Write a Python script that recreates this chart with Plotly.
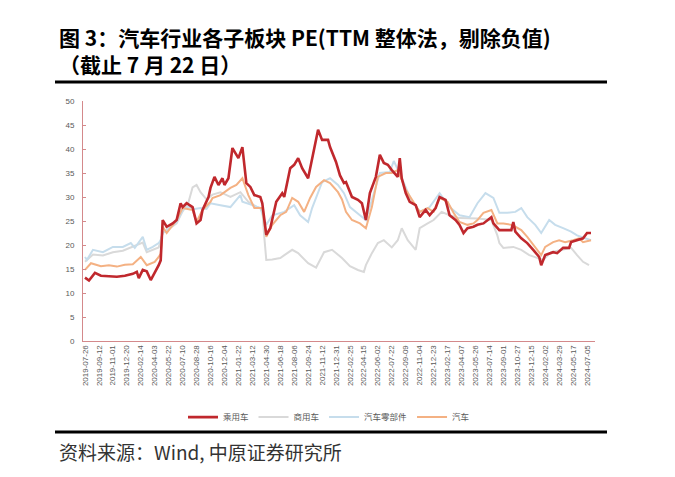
import plotly.graph_objects as go

# Week index (trading weeks since 2019-07-26) and PE values
tick_labels = ["2019-07-26","2019-09-12","2019-11-01","2019-12-20","2020-02-14","2020-04-03",
               "2020-05-22","2020-07-10","2020-08-28","2020-10-16","2020-12-04","2021-01-22",
               "2021-03-12","2021-04-30","2021-06-18","2021-08-06","2021-09-24","2021-11-12",
               "2021-12-31","2022-02-25","2022-04-15","2022-06-02","2022-07-22","2022-09-09",
               "2022-11-04","2022-12-23","2023-02-17","2023-04-07","2023-05-26","2023-07-14",
               "2023-09-01","2023-10-27","2023-12-15","2024-02-02","2024-03-29","2024-05-17",
               "2024-07-05"]
tick_weeks = [i * 7 for i in range(len(tick_labels))]

passenger_wk = [0,2,5,8,12,16,20,24,26,27,29,31,33,35,37,38,39,41,44,46,48,49,51,54,56,58,59,62,63,65,67,69,70,72,74,77,79,81,83,85,88,89,91,93,96,99,100,103,105,107,109,112,114,117,119,122,123,126,128,130,131,134,137,139,141,143,146,148,150,152,154,157,158,159,161,163,166,168,171,173,176,178,181,183,186,188,190,192,195,197,200,204,205,208,210,214,215,216,219,222,225,228,229,231,235,237,240,243,244,247,250,252,254]
passenger_pe = [13.2,12.6,14.2,13.6,13.5,13.4,13.6,14.0,14.4,13.1,14.8,14.5,12.7,14.2,15.8,16.8,25.2,23.8,24.5,25.2,28.7,27.9,28.7,27.9,24.5,25.2,27.3,30.0,31.9,34.2,32.5,33.9,32.5,33.9,40.2,38.1,40.4,32.9,32.1,30.4,30.0,28.7,22.1,23.5,29.0,30.8,30.0,36.0,36.7,38.1,36.0,33.9,38.1,44.0,41.9,41.9,40.4,37.3,34.5,32.9,33.1,30.0,29.4,28.7,25.2,30.8,34.2,38.8,37.1,36.7,35.6,34.2,38.1,33.9,30.8,29.0,28.3,25.8,27.3,26.2,27.7,30.0,29.4,26.2,25.2,24.2,22.5,23.5,23.8,24.2,24.5,25.8,24.5,23.1,23.1,23.1,24.8,22.8,21.4,20.4,19.0,17.5,15.8,17.9,18.5,18.3,19.4,19.4,20.6,21.0,21.4,22.5,22.5]

commercial_wk = [0,4,9,14,19,23,29,31,37,39,41,46,49,52,54,56,58,61,64,68,73,78,82,86,89,90,91,94,98,104,107,112,116,120,124,129,133,137,140,141,144,147,150,154,157,159,162,166,168,172,175,179,183,188,193,197,204,207,208,210,215,219,223,227,230,234,239,244,247,250,253]
commercial_pe = [16.5,18.0,17.8,18.5,18.8,19.5,20.5,18.5,19.5,22.5,23.0,24.5,27.0,29.0,32.0,32.5,31.0,29.5,30.5,31.0,30.0,31.0,29.0,28.0,27.5,21.7,16.9,17.0,17.3,19.0,18.3,16.2,15.3,18.5,19.0,17.3,15.6,14.8,14.4,15.8,18.3,20.4,21.0,19.5,21.0,23.5,21.0,19.0,23.5,24.5,25.2,26.9,26.2,25.6,25.5,25.5,25.2,22.0,20.4,19.4,19.6,19.0,17.9,17.3,16.9,18.5,19.0,19.4,17.9,16.5,15.8]

parts_wk = [0,1,4,9,14,19,23,25,29,31,34,37,38,39,41,46,49,52,55,58,61,63,68,73,78,79,84,88,91,94,100,105,108,112,114,119,123,127,130,133,138,141,145,148,153,155,159,163,168,173,178,183,188,193,197,201,205,208,212,216,219,222,226,229,233,236,240,244,247,250,254]
parts_pe = [17.5,16.9,19.0,18.5,19.6,19.6,20.4,19.4,21.7,19.0,19.6,20.4,21.0,22.5,23.1,24.8,27.3,28.0,27.5,27.7,27.5,28.7,28.3,27.9,30.4,29.0,28.3,27.7,24.2,26.2,26.9,28.3,26.2,24.8,27.7,33.1,33.9,32.5,30.8,27.9,26.2,25.2,30.8,35.0,35.2,37.5,34.0,30.0,26.9,27.9,30.8,27.9,26.2,25.8,28.7,30.8,29.8,26.7,26.7,26.9,27.7,25.8,24.2,22.5,25.2,24.2,23.5,22.8,22.0,21.5,21.0]

auto_wk = [0,3,8,12,16,20,24,28,31,35,37,38,39,41,46,49,54,56,59,63,64,68,73,76,79,82,85,89,91,94,98,101,104,107,110,113,116,120,123,127,129,131,134,138,141,144,147,151,154,157,161,164,168,172,175,178,182,185,188,192,195,197,200,204,207,210,214,216,219,222,225,229,231,235,238,241,245,248,250,254]
auto_pe = [14.8,16.2,15.6,15.8,15.5,15.9,16.0,17.5,15.8,16.5,17.5,18.2,23.8,22.5,25.2,27.7,27.3,24.8,27.3,29.0,29.8,30.4,31.9,32.5,33.9,30.4,27.7,27.7,21.7,24.2,26.2,26.9,29.8,29.0,26.9,29.8,32.1,33.5,32.9,31.0,29.5,26.9,25.2,24.5,23.5,27.9,34.2,35.0,35.0,35.6,31.5,29.4,26.9,27.7,26.9,29.8,29.0,26.7,24.8,24.2,24.5,25.2,26.7,27.3,24.5,24.5,24.2,23.8,23.1,21.7,20.0,17.9,19.6,20.6,21.0,20.6,21.0,21.4,20.6,21.0]

series = [
    ("商用车", commercial_wk, commercial_pe, "#D9D9D9", 2.0, 2),
    ("汽车零部件", parts_wk, parts_pe, "#C6DDEC", 2.0, 3),
    ("汽车", auto_wk, auto_pe, "#F4B183", 2.0, 4),
    ("乘用车", passenger_wk, passenger_pe, "#C0282D", 2.6, 1),
]

fig = go.Figure()
for name, xs, ys, color, w, rank in series:
    fig.add_trace(go.Scatter(x=xs, y=ys, mode="lines", name=name,
                             line=dict(color=color, width=w), legendrank=rank))

axis_color = "#D4898B"
fig.update_layout(
    width=675, height=477,
    margin=dict(l=83, r=80, t=101, b=136),
    paper_bgcolor="white", plot_bgcolor="white",
    font=dict(family="Liberation Sans, Arial, sans-serif", color="#595959"),
    xaxis=dict(range=[-1, 256], tickmode="array", tickvals=tick_weeks, ticktext=tick_labels,
               tickangle=-90, tickfont=dict(size=8, color="#595959"),
               showgrid=False, zeroline=False, showline=True, linecolor=axis_color,
               linewidth=1, ticks="", fixedrange=True),
    yaxis=dict(range=[0, 50], tickmode="array", tickvals=list(range(0, 51, 5)),
               tickfont=dict(size=8, color="#595959"), showgrid=False, zeroline=False,
               showline=True, linecolor=axis_color, linewidth=1, ticks="inside",
               ticklen=3, tickcolor=axis_color, ticklabelstandoff=6),
    showlegend=True,
    legend=dict(orientation="h", x=(183 - 83) / 512, xanchor="left", y=-0.317, yanchor="middle",
                font=dict(size=8.5, color="#595959", family="Noto Sans CJK SC"),
                traceorder="normal", itemwidth=30, bgcolor="rgba(0,0,0,0)"),
)

fig.add_annotation(xref="paper", yref="paper", x=-0.051, y=(341 - 50) / 240, xanchor="left",
                   yanchor="middle", showarrow=False, align="left",
                   text="<b>图 3：汽车行业各子板块 PE(TTM 整体法，剔除负值)</b><br><b>（截止 7 月 22 日）</b>",
                   font=dict(family="Noto Sans CJK SC", size=21, color="black"))
fig.add_annotation(xref="paper", yref="paper", x=-0.051, y=(341 - 451) / 240, xanchor="left",
                   yanchor="middle", showarrow=False,
                   text="资料来源：Wind, 中原证券研究所",
                   font=dict(family="Noto Sans CJK SC", size=19, color="#333333"))

for py in (82, 432):
    fig.add_shape(type="line", xref="paper", yref="paper",
                  x0=(55 - 83) / 512, x1=(607 - 83) / 512,
                  y0=(341 - py) / 240, y1=(341 - py) / 240,
                  line=dict(color="black", width=3))

fig.write_html("out.html")
